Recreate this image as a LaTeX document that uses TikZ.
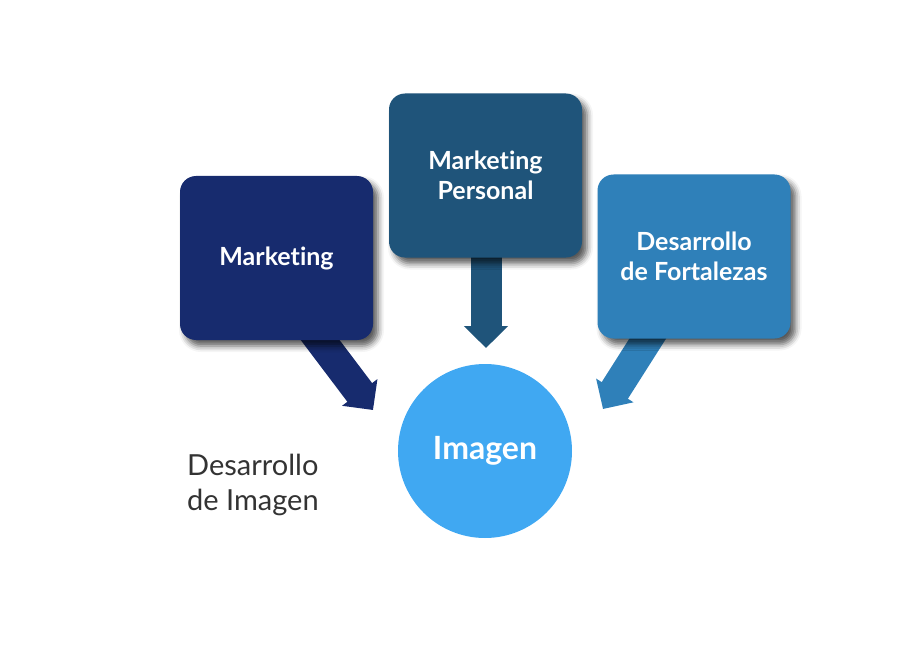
\documentclass[tikz,border=0pt]{standalone}
\usepackage{fontspec}
\setmainfont{Lato}[Ligatures=NoCommon]
\usetikzlibrary{arrows.meta,shadows.blur,calc}
\definecolor{cA}{HTML}{172B6E}
\definecolor{cB}{HTML}{1F547A}
\definecolor{cC}{HTML}{2F80B9}
\definecolor{cD}{HTML}{40A8F2}
\definecolor{cT}{HTML}{333333}
\begin{document}
\begin{tikzpicture}[x=1pt,y=-1pt,
  card/.style={rounded corners=16pt, minimum width=193pt, minimum height=164pt,
    inner sep=0pt, text=white, align=center,
    font=\bfseries\fontsize{25}{30}\selectfont,
    blur shadow={shadow xshift=5pt, shadow yshift=-6pt, shadow blur radius=6pt, shadow opacity=65}},
  blockarrow/.style={line width=31pt, -{Triangle[width=43pt,length=22pt]}},
]
\useasboundingbox (0,0) rectangle (900,650);
% arrow end points
\coordinate (s1) at (302,316);
\coordinate (t1) at (373,410);
\coordinate (s2) at (486,240);
\coordinate (t2) at (486,348);
\coordinate (s3) at (664,313);
\coordinate (t3) at (603,409);
% arrows
\draw[blockarrow, cA] (s1) -- (t1);
\draw[blockarrow, cB] (s2) -- (t2);
\draw[blockarrow, cC] (s3) -- (t3);
% boxes
\node[card, fill=cA] (m1) at (276.5,258) {Marketing};
\node[card, fill=cB] (m2) at (485.5,175.5) {Marketing\\Personal};
\node[card, fill=cC] (m3) at (694,256.5) {Desarrollo\\de Fortalezas};
% circle
\node[circle, fill=cD, minimum size=174pt, inner sep=0pt, text=white,
  font=\bfseries\fontsize{32}{36}\selectfont] (img) at (485,451) {Imagen};
% label
\node[text=cT, align=left, font=\fontsize{29}{35}\selectfont, inner sep=0pt, anchor=west] (lbl) at (187,485) {Desarrollo\\de Imagen};
\end{tikzpicture}
\end{document}
